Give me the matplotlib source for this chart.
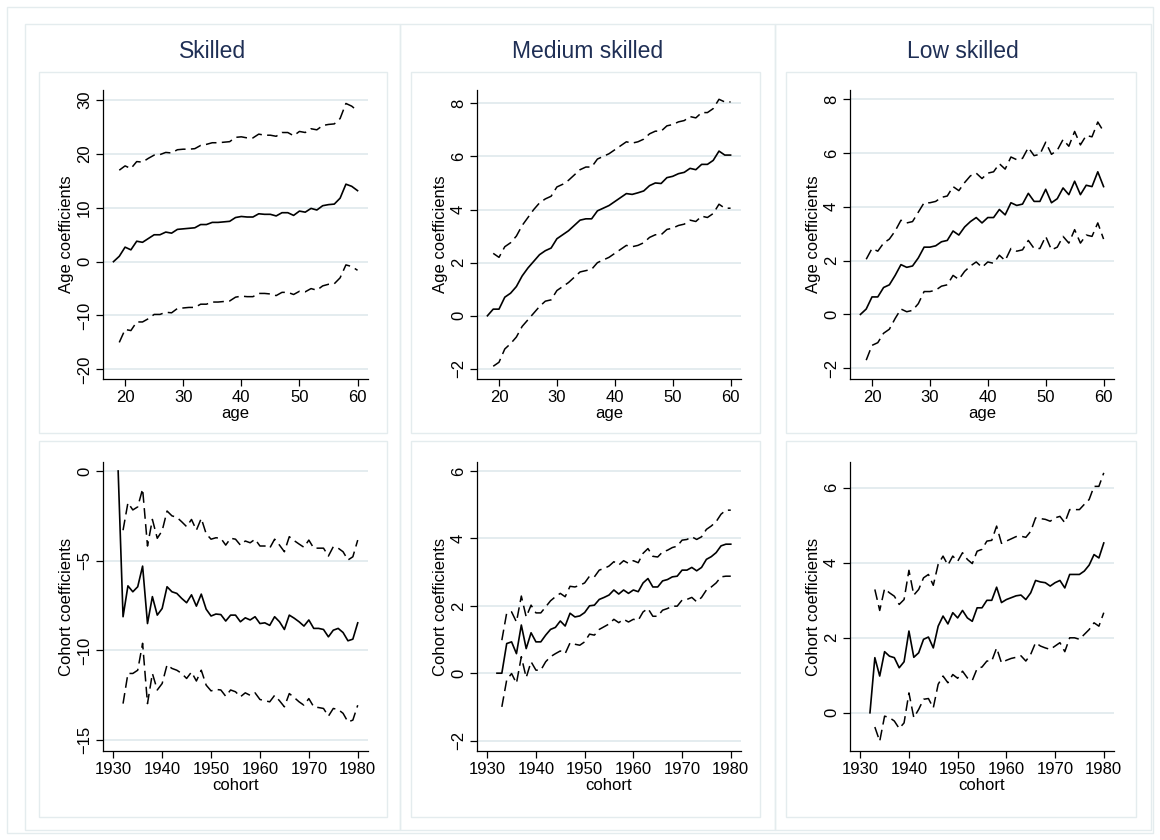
import numpy as np
import matplotlib.pyplot as plt
from matplotlib.patches import Rectangle

plt.rcParams['font.family'] = ['Liberation Sans', 'DejaVu Sans']

nan = np.nan

titles = ['Skilled', 'Medium skilled', 'Low skilled']

# age profiles, ages 18-60 (no confidence band at the 18 baseline)
age = list(range(18, 61))

sk_age = [0, 1.0, 2.7, 2.2, 3.8, 3.6, 4.3, 5.0, 5.0, 5.5, 5.3, 6.0, 6.1, 6.2, 6.3, 6.9, 6.9,
          7.3, 7.3, 7.4, 7.5, 8.2, 8.4, 8.3, 8.3, 8.9, 8.8, 8.8, 8.5, 9.1, 9.1, 8.6, 9.4, 9.2,
          9.9, 9.6, 10.4, 10.6, 10.7, 11.8, 14.4, 14.0, 13.2]
sk_age_hi = [nan, 17.0, 17.8, 17.3, 18.6, 18.5, 19.2, 19.8, 19.9, 20.3, 20.2, 20.8, 20.9, 20.9,
             21.0, 21.6, 21.8, 22.1, 22.1, 22.2, 22.3, 23.1, 23.2, 23.0, 23.0, 23.7, 23.5, 23.5,
             23.3, 24.0, 24.0, 23.4, 24.2, 24.0, 24.7, 24.5, 25.3, 25.5, 25.6, 26.6, 29.4, 28.9, 28.0]
sk_age_lo = [nan, -15.0, -12.6, -12.8, -11.2, -11.2, -10.6, -9.8, -9.8, -9.4, -9.5, -8.7, -8.6,
             -8.5, -8.5, -7.9, -7.9, -7.5, -7.5, -7.4, -7.3, -6.6, -6.4, -6.5, -6.5, -5.9, -5.9,
             -6.0, -6.3, -5.7, -5.7, -6.1, -5.5, -5.6, -5.0, -5.3, -4.5, -4.2, -4.1, -3.0, -0.6,
             -0.9, -1.6]

md_age = [0, 0.25, 0.25, 0.7, 0.85, 1.1, 1.5, 1.8, 2.05, 2.3, 2.45, 2.55, 2.9, 3.05, 3.2, 3.4,
          3.6, 3.65, 3.65, 3.95, 4.05, 4.15, 4.3, 4.45, 4.6, 4.57, 4.63, 4.7, 4.9, 5.0, 4.98, 5.2,
          5.25, 5.35, 5.4, 5.55, 5.5, 5.7, 5.7, 5.85, 6.2, 6.05, 6.05]
md_age_hi = [nan, 2.35, 2.2, 2.6, 2.75, 3.0, 3.4, 3.7, 4.0, 4.25, 4.4, 4.5, 4.85, 4.95, 5.1, 5.3,
             5.5, 5.6, 5.6, 5.9, 6.0, 6.1, 6.25, 6.4, 6.55, 6.5, 6.55, 6.65, 6.85, 6.95, 6.95,
             7.15, 7.2, 7.3, 7.35, 7.5, 7.45, 7.65, 7.65, 7.8, 8.15, 8.05, 8.05]
md_age_lo = [nan, -1.9, -1.75, -1.25, -1.05, -0.8, -0.4, -0.15, 0.1, 0.35, 0.55, 0.6, 0.95, 1.1,
             1.25, 1.45, 1.65, 1.7, 1.75, 2.0, 2.1, 2.2, 2.35, 2.5, 2.65, 2.6, 2.65, 2.75, 2.95,
             3.05, 3.05, 3.25, 3.3, 3.4, 3.45, 3.6, 3.55, 3.75, 3.7, 3.85, 4.2, 4.05, 4.05]

lo_age = [0, 0.2, 0.65, 0.65, 1.0, 1.1, 1.45, 1.85, 1.75, 1.8, 2.1, 2.5, 2.5, 2.55, 2.7, 2.75,
          3.1, 2.95, 3.25, 3.45, 3.6, 3.4, 3.6, 3.6, 3.9, 3.7, 4.15, 4.05, 4.1, 4.5, 4.2, 4.2,
          4.65, 4.15, 4.3, 4.7, 4.45, 4.95, 4.45, 4.8, 4.75, 5.3, 4.75]
lo_age_hi = [nan, 2.05, 2.45, 2.35, 2.65, 2.8, 3.1, 3.5, 3.4, 3.45, 3.8, 4.15, 4.15, 4.2, 4.35,
             4.4, 4.75, 4.6, 4.9, 5.15, 5.25, 5.05, 5.25, 5.3, 5.6, 5.4, 5.85, 5.75, 5.8, 6.2,
             5.9, 5.95, 6.4, 5.95, 6.1, 6.5, 6.25, 6.8, 6.3, 6.65, 6.6, 7.15, 6.8]
lo_age_lo = [nan, -1.7, -1.15, -1.05, -0.7, -0.55, -0.15, 0.2, 0.1, 0.15, 0.4, 0.85, 0.85, 0.9,
             1.05, 1.1, 1.45, 1.3, 1.6, 1.8, 1.95, 1.75, 1.95, 1.9, 2.2, 2.0, 2.45, 2.35, 2.4,
             2.75, 2.45, 2.45, 2.9, 2.4, 2.5, 2.9, 2.65, 3.15, 2.65, 2.95, 2.9, 3.4, 2.8]

# cohort profiles
sk_cohort = list(range(1931, 1981))
sk_coh = [0, -8.12, -6.4, -6.73, -6.45, -5.3, -8.5, -7.0, -8.03, -7.66,
          -6.45, -6.73, -6.82, -7.1, -7.34, -6.9, -7.53, -6.86, -7.7, -8.08,
          -7.97, -8.0, -8.36, -8.03, -8.03, -8.4, -8.18, -8.3, -8.12, -8.5,
          -8.46, -8.6, -8.12, -8.4, -8.83, -8.03, -8.2, -8.4, -8.64, -8.3,
          -8.77, -8.77, -8.83, -9.24, -8.87, -8.77, -9.0, -9.46, -9.37, -8.46]
sk_coh_hi = [nan, -3.3, -1.77, -2.17, -2.0, -1.0, -4.18, -2.7, -3.75, -3.33,
             -2.23, -2.5, -2.58, -2.83, -3.1, -2.7, -3.3, -2.64, -3.5, -3.8,
             -3.72, -3.75, -4.13, -3.75, -3.8, -4.13, -3.9, -4.0, -3.8, -4.18,
             -4.18, -4.3, -3.8, -4.13, -4.5, -3.66, -3.88, -4.07, -4.25, -3.85,
             -4.3, -4.3, -4.3, -4.74, -4.22, -4.3, -4.5, -4.96, -4.78, -3.85]
sk_coh_lo = [nan, -12.96, -11.28, -11.28, -11.1, -9.6, -12.96, -11.28, -12.2, -11.84,
             -10.8, -11.0, -11.1, -11.28, -11.56, -11.2, -11.7, -11.1, -11.93, -12.25,
             -12.17, -12.2, -12.55, -12.2, -12.3, -12.58, -12.36, -12.5, -12.36, -12.73,
             -12.8, -12.86, -12.5, -12.8, -13.14, -12.4, -12.62, -12.86, -13.05, -12.68,
             -13.14, -13.18, -13.23, -13.66, -13.23, -13.29, -13.5, -13.98, -13.88, -13.05]

cohort = list(range(1932, 1981))
md_coh = [0, 0, 0.88, 0.93, 0.58, 1.43, 0.73, 1.2, 0.93,
          0.93, 1.13, 1.3, 1.36, 1.55, 1.4, 1.78, 1.67, 1.7, 1.8,
          2.0, 2.02, 2.19, 2.25, 2.32, 2.47, 2.35, 2.47, 2.37, 2.47,
          2.42, 2.68, 2.81, 2.56, 2.56, 2.74, 2.78, 2.86, 2.88, 3.06,
          3.06, 3.14, 3.04, 3.14, 3.38, 3.46, 3.58, 3.78, 3.83, 3.83]
md_coh_hi = [nan, 0.98, 1.79, 1.82, 1.52, 2.29, 1.67, 2.02, 1.79,
             1.79, 1.97, 2.15, 2.27, 2.37, 2.27, 2.58, 2.56, 2.61, 2.68,
             2.88, 2.86, 3.06, 3.11, 3.18, 3.31, 3.21, 3.34, 3.26, 3.34,
             3.28, 3.56, 3.7, 3.47, 3.45, 3.6, 3.65, 3.73, 3.77, 3.95,
             3.97, 4.05, 3.97, 4.05, 4.27, 4.37, 4.5, 4.72, 4.84, 4.84]
md_coh_lo = [nan, -1.0, -0.2, -0.01, -0.3, 0.49, -0.13, 0.34, 0.09,
             0.09, 0.34, 0.49, 0.58, 0.66, 0.58, 0.9, 0.86, 0.83, 0.93,
             1.16, 1.13, 1.3, 1.38, 1.46, 1.6, 1.5, 1.6, 1.52, 1.6,
             1.57, 1.82, 1.92, 1.69, 1.69, 1.87, 1.92, 1.99, 1.99, 2.17,
             2.19, 2.25, 2.12, 2.25, 2.47, 2.56, 2.68, 2.86, 2.88, 2.88]

lo_coh = [0, 1.47, 0.98, 1.63, 1.51, 1.47, 1.2, 1.36, 2.18,
          1.48, 1.6, 1.96, 2.02, 1.73, 2.31, 2.58, 2.37, 2.67, 2.53,
          2.73, 2.53, 2.44, 2.8, 2.8, 3.0, 3.0, 3.35, 2.94, 3.02,
          3.07, 3.12, 3.14, 3.02, 3.2, 3.53, 3.49, 3.47, 3.38, 3.47,
          3.53, 3.33, 3.69, 3.69, 3.69, 3.78, 3.94, 4.22, 4.13, 4.53]
lo_coh_hi = [nan, 3.29, 2.73, 3.31, 3.2, 3.11, 2.89, 3.02, 3.8,
             3.14, 3.29, 3.6, 3.69, 3.4, 3.96, 4.18, 3.94, 4.18, 4.04,
             4.27, 4.09, 3.98, 4.31, 4.36, 4.58, 4.6, 4.98, 4.52, 4.58,
             4.64, 4.7, 4.71, 4.68, 4.84, 5.2, 5.18, 5.16, 5.11, 5.2,
             5.24, 5.07, 5.42, 5.42, 5.42, 5.56, 5.69, 6.04, 6.04, 6.4]
lo_coh_lo = [nan, -0.38, -0.76, -0.09, -0.13, -0.22, -0.42, -0.27, 0.53,
             -0.13, 0.09, 0.36, 0.38, 0.13, 0.76, 0.98, 0.8, 1.02, 0.92,
             1.11, 0.93, 0.86, 1.18, 1.22, 1.38, 1.38, 1.73, 1.33, 1.4,
             1.45, 1.48, 1.52, 1.38, 1.56, 1.87, 1.78, 1.73, 1.69, 1.78,
             1.87, 1.63, 2.0, 2.0, 1.96, 2.09, 2.22, 2.4, 2.31, 2.67]

W, H = 1160, 840
BORDER = '#e4ecee'
GRID = '#e2ebee'
TITLE = '#1f2f55'


def rect(x0, y0, x1, y1):
    # pixel box (top-left origin) -> figure fraction
    return [x0 / W, 1 - y1 / H, (x1 - x0) / W, (y1 - y0) / H]


def frame(fig, x0, y0, x1, y1):
    l, b, w, h = rect(x0, y0, x1, y1)
    fig.patches.append(Rectangle((l, b), w, h, transform=fig.transFigure,
                                 fill=False, edgecolor=BORDER, lw=1.0))


def panel(ax, x, mid, hi, lo, xlim, ylim, xticks, yticks, xlabel, ylabel):
    ax.plot(x, hi, color='black', lw=1.1, ls=(0, (7, 3.5)))
    ax.plot(x, lo, color='black', lw=1.1, ls=(0, (7, 3.5)))
    ax.plot(x, mid, color='black', lw=1.2)
    ax.set_xlim(*xlim)
    ax.set_ylim(*ylim)
    ax.set_xticks(xticks)
    ax.set_yticks(yticks)
    ax.spines['top'].set_visible(False)
    ax.spines['right'].set_visible(False)
    ax.spines['left'].set_linewidth(0.9)
    ax.spines['bottom'].set_linewidth(0.9)
    ax.grid(axis='y', color=GRID, lw=1.3)
    ax.set_axisbelow(True)
    ax.tick_params(direction='out', length=5, width=0.9, labelsize=12, pad=3)
    ax.tick_params(axis='y', labelrotation=90)
    for lbl in ax.get_yticklabels():
        lbl.set_va('center')
    ax.set_xlabel(xlabel, fontsize=12, labelpad=1)
    ax.set_ylabel(ylabel, fontsize=12, labelpad=2)


fig = plt.figure(figsize=(11.6, 8.4), dpi=100)

frame(fig, 7, 7, 1153, 833)

cols = [(25, 400), (400, 775), (775, 1151)]
inner = [(39, 387), (411, 760), (786, 1136)]
axes_x = [(103, 368), (477, 741), (850, 1114)]

for (c0, c1), (i0, i1) in zip(cols, inner):
    frame(fig, c0, 24, c1, 830)
    frame(fig, i0, 72, i1, 433)
    frame(fig, i0, 441, i1, 817)

for (c0, c1), title in zip(cols, titles):
    fig.text((c0 + c1) / 2 / W, 1 - 52 / H, title, ha='center', va='center',
             fontsize=16.5, color=TITLE)

age_data = [(sk_age, sk_age_hi, sk_age_lo, (-21.8, 31.9), [-20, -10, 0, 10, 20, 30]),
            (md_age, md_age_hi, md_age_lo, (-2.38, 8.5), [-2, 0, 2, 4, 6, 8]),
            (lo_age, lo_age_hi, lo_age_lo, (-2.4, 8.34), [-2, 0, 2, 4, 6, 8])]
coh_data = [(sk_cohort, sk_coh, sk_coh_hi, sk_coh_lo, (-15.6, 0.5), [-15, -10, -5, 0]),
            (cohort, md_coh, md_coh_hi, md_coh_lo, (-2.31, 6.27), [-2, 0, 2, 4, 6]),
            (cohort, lo_coh, lo_coh_hi, lo_coh_lo, (-1.02, 6.69), [0, 2, 4, 6])]

for (x0, x1), (mid, hi, lo, ylim, yt) in zip(axes_x, age_data):
    ax = fig.add_axes(rect(x0, 90, x1, 379))
    panel(ax, age, mid, hi, lo, (16.2, 61.8), ylim, [20, 30, 40, 50, 60], yt,
          'age', 'Age coefficients')

for (x0, x1), (x, mid, hi, lo, ylim, yt) in zip(axes_x, coh_data):
    ax = fig.add_axes(rect(x0, 462, x1, 751))
    panel(ax, x, mid, hi, lo, (1927.9, 1982.1), ylim,
          [1930, 1940, 1950, 1960, 1970, 1980], yt, 'cohort', 'Cohort coefficients')

fig.savefig('out.png', dpi=100, facecolor='white')
